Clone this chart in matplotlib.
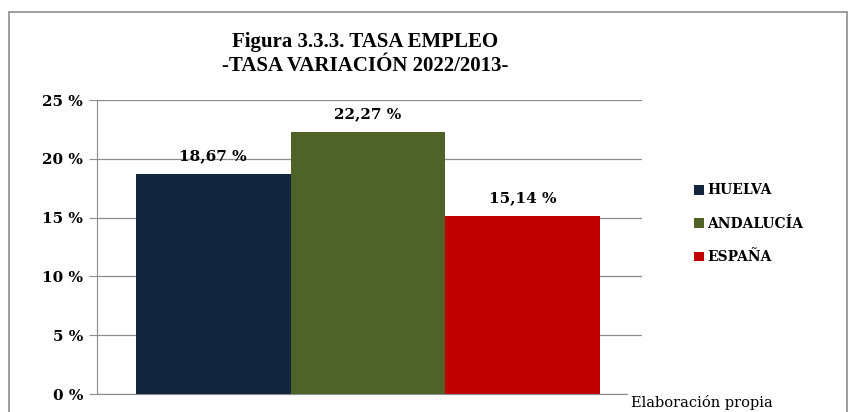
import matplotlib.pyplot as plt
from matplotlib.patches import Rectangle
from matplotlib.ticker import FuncFormatter

# data
series = ['HUELVA', 'ANDALUCÍA', 'ESPAÑA']
values = [18.67, 22.27, 15.14]
colors = ['#13253F', '#4F6228', '#C00000']
yticks = [0, 5, 10, 15, 20, 25]

plt.rcParams['font.family'] = ['DejaVu Serif']

fig = plt.figure(figsize=(8.53, 4.12), dpi=100)
W, H = 853, 412

# axes placed in pixel coordinates of the reference
ax = fig.add_axes([97 / W, 1 - 394 / H, (642 - 97) / W, (394 - 100) / H])

xs = range(len(series))
bars = ax.bar(xs, values, width=1.0, color=colors, label=series, zorder=3)
ax.set_xlim(-0.75, 2.77)
ax.set_ylim(0, 25)
ax.set_yticks(yticks)
ax.yaxis.set_major_formatter(FuncFormatter(lambda v, p: f'{v:.0f} %'))
ax.set_xticks([])
ax.grid(axis='y', color='#8c8c8c', linewidth=0.9, zorder=0)
for s in ['top', 'right']:
    ax.spines[s].set_visible(False)
for s in ['left', 'bottom']:
    ax.spines[s].set_color('#8c8c8c')
ax.tick_params(axis='y', length=6, color='#8c8c8c', pad=4, labelsize=11)
for lab in ax.get_yticklabels():
    lab.set_fontweight('bold')

for x, v in zip(xs, values):
    ax.annotate(f'{v:.2f} %'.replace('.', ','), (x, v), xytext=(0, 8),
                textcoords='offset points', ha='center', va='bottom',
                fontsize=11, fontweight='bold')

fig.text(365 / W, 1 - 54 / H, 'Figura 3.3.3. TASA EMPLEO\n-TASA VARIACIÓN 2022/2013-',
         ha='center', va='center', fontsize=15, fontweight='bold',
         family='Liberation Serif', linespacing=1.3)

leg = fig.legend(handles=bars, labels=series, loc='upper left',
                 bbox_to_anchor=(682 / W, 1 - 171 / H), frameon=False,
                 prop={'weight': 'bold', 'size': 10}, handlelength=0.7,
                 handleheight=0.7, handletextpad=0.2, labelspacing=1.4)

# outer chart border
fig.add_artist(Rectangle((9 / W, -0.05), (847 - 9) / W, 1.05 - 12 / H,
                         transform=fig.transFigure, fill=False,
                         edgecolor='#8c8c8c', linewidth=1.2))

fig.text(702 / W, 1 - 403 / H, 'Elaboración propia', ha='center', va='center',
         fontsize=10.5, bbox=dict(facecolor='white', edgecolor='none', pad=2))

fig.savefig('out.png', dpi=100)
